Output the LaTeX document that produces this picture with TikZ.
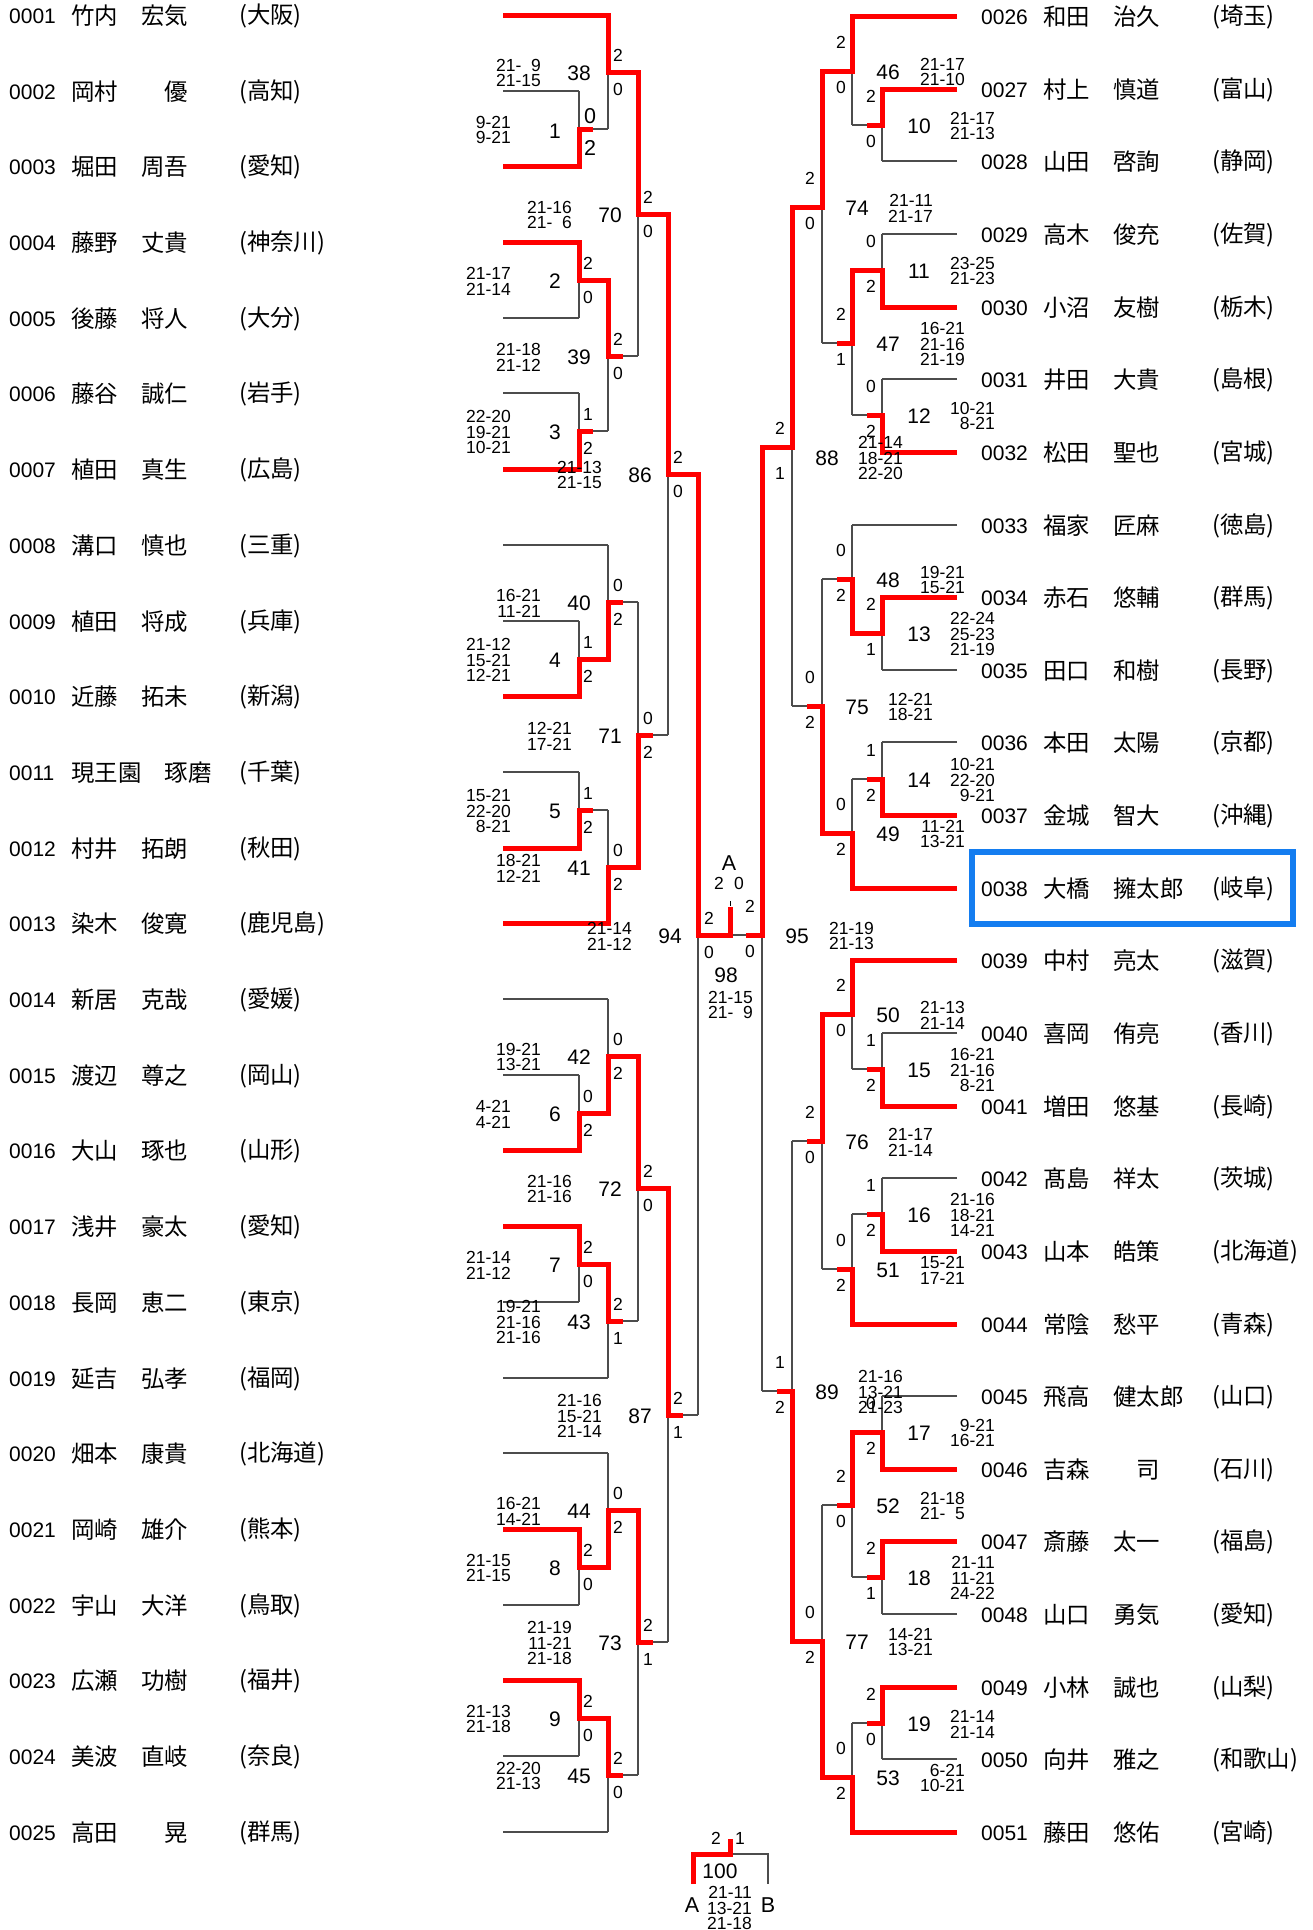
\documentclass[tikz,border=0pt]{standalone}
\usepackage{fontspec}
\setmainfont{Liberation Sans}
\newfontfamily\jpfont{Noto Sans CJK JP}
\definecolor{bluebox}{RGB}{20,125,240}
\tikzset{
  thinln/.style={draw=black!70, line width=1.2pt},
  winln/.style={draw=red, line width=5pt, line join=miter},
  lab/.style={inner sep=0pt, font=\fontsize{17.5}{18}\selectfont},
  biglab/.style={inner sep=0pt, font=\fontsize{21.5}{22}\selectfont},
  mnum/.style={inner sep=0pt, font=\fontsize{21}{22}\selectfont},
  scr/.style={inner sep=0pt, anchor=east, align=right, font=\fontsize{17.5}{15.8}\selectfont},
  pnum/.style={inner sep=0pt, anchor=west, font=\fontsize{21}{22}\selectfont},
  pname/.style={inner sep=0pt, anchor=west, font=\jpfont\fontsize{23.4}{24}\selectfont},
}
% thin match: x, top, bottom, mid, next-x
\newcommand\Mt[5]{\draw[thinln] (#1,#2) -- (#1,#3) (#1,#4) -- (#5,#4);}
\newcommand\LMatch[8]{%
  \node[lab] (m#1t) at (#2,#5-17) {#6};
  \node[lab] (m#1b) at (#2,#5+17) {#7};
  \node[mnum] (m#1n) at (#3,#5+1.5) {#1};
  \node[scr] (m#1s) at (#4,#5+1) {#8};}
\newcommand\RMatch[8]{%
  \node[lab] (m#1t) at (#2,#5-29) {#6};
  \node[lab] (m#1b) at (#2,#5+16) {#7};
  \node[mnum] (m#1n) at (#3,#5+1.5) {#1};
  \node[scr] (m#1s) at (#4,#5+1) {#8};}
\newcommand\LvA[5]{\LMatch{#1}{588}{555}{511}{#2}{#3}{#4}{#5}}
\newcommand\LvB[5]{\LMatch{#1}{618}{579}{541}{#2}{#3}{#4}{#5}}
\newcommand\LvC[5]{\LMatch{#1}{648}{610}{572}{#2}{#3}{#4}{#5}}
\newcommand\LvD[5]{\LMatch{#1}{678}{640}{602}{#2}{#3}{#4}{#5}}
\newcommand\LvE[5]{\LMatch{#1}{709}{670}{632}{#2}{#3}{#4}{#5}}
\newcommand\RvA[5]{\RMatch{#1}{871}{919}{995}{#2}{#3}{#4}{#5}}
\newcommand\RvB[5]{\RMatch{#1}{841}{888}{965}{#2}{#3}{#4}{#5}}
\newcommand\RvC[5]{\RMatch{#1}{810}{857}{933}{#2}{#3}{#4}{#5}}
\newcommand\RvD[5]{\RMatch{#1}{780}{827}{903}{#2}{#3}{#4}{#5}}
\newcommand\RvE[5]{\RMatch{#1}{750}{797}{874}{#2}{#3}{#4}{#5}}
\begin{document}
\begin{tikzpicture}[x=1pt,y=-1pt]
\fill[white] (0,0) rectangle (1312,1930);
\useasboundingbox (0,0) rectangle (1312,1930);

% ---------- names left ----------
\foreach \qy/\qn/\qm/\qp in {15/0001/竹内　宏気/大阪, 91/0002/岡村　　優/高知, 166/0003/堀田　周吾/愛知,
 242/0004/藤野　丈貴/神奈川, 318/0005/後藤　将人/大分, 393/0006/藤谷　誠仁/岩手, 469/0007/植田　真生/広島,
 545/0008/溝口　慎也/三重, 621/0009/植田　将成/兵庫, 696/0010/近藤　拓未/新潟, 772/0011/現王園　琢磨/千葉,
 848/0012/村井　拓朗/秋田, 923/0013/染木　俊寛/鹿児島, 999/0014/新居　克哉/愛媛, 1075/0015/渡辺　尊之/岡山,
 1150/0016/大山　琢也/山形, 1226/0017/浅井　豪太/愛知, 1302/0018/長岡　恵二/東京, 1378/0019/延吉　弘孝/福岡,
 1453/0020/畑本　康貴/北海道, 1529/0021/岡崎　雄介/熊本, 1605/0022/宇山　大洋/鳥取, 1680/0023/広瀬　功樹/福井,
 1756/0024/美波　直岐/奈良, 1832/0025/高田　　晃/群馬}{
  \node[pnum] (n\qn) at (9,\qy+1) {\qn};
  \node[pname] (nm\qn) at (71,\qy+1) {\qm};
  \node[pname] (pf\qn) at (239,\qy+1) {(\qp)};
}
% ---------- names right ----------
\foreach \qy/\qn/\qm/\qp in {16/0026/和田　治久/埼玉, 89/0027/村上　慎道/富山, 161/0028/山田　啓詢/静岡,
 234/0029/高木　俊充/佐賀, 307/0030/小沼　友樹/栃木, 379/0031/井田　大貴/島根, 452/0032/松田　聖也/宮城,
 525/0033/福家　匠麻/徳島, 597/0034/赤石　悠輔/群馬, 670/0035/田口　和樹/長野, 742/0036/本田　太陽/京都,
 815/0037/金城　智大/沖縄, 888/0038/大橋　擁太郎/岐阜, 960/0039/中村　亮太/滋賀, 1033/0040/喜岡　侑亮/香川,
 1106/0041/増田　悠基/長崎, 1178/0042/髙島　祥太/茨城, 1251/0043/山本　皓策/北海道, 1324/0044/常陰　愁平/青森,
 1396/0045/飛高　健太郎/山口, 1469/0046/吉森　　司/石川, 1541/0047/斎藤　太一/福島, 1614/0048/山口　勇気/愛知,
 1687/0049/小林　誠也/山梨, 1759/0050/向井　雅之/和歌山, 1832/0051/藤田　悠佑/宮崎}{
  \node[pnum] (n\qn) at (981,\qy+1) {\qn};
  \node[pname] (nm\qn) at (1043,\qy+1) {\qm};
  \node[pname] (pf\qn) at (1212,\qy+1) {(\qp)};
}
\draw[bluebox, line width=6pt] (972,852) rectangle (1293,924);

% ---------- thin bracket left ----------
\foreach \qy in {91,166,242,318,393,469,621,696,772,848,1075,1150,1226,1302,1529,1605,1680,1756}
  \draw[thinln] (503,\qy) -- (579,\qy);
\foreach \qy in {15,545,923,999,1378,1453,1832}
  \draw[thinln] (503,\qy) -- (608,\qy);
\Mt{579}{91}{166}{129}{608}
\Mt{579}{242}{318}{280}{608}
\Mt{579}{393}{469}{431}{608}
\Mt{579}{621}{696}{659}{608}
\Mt{579}{772}{848}{810}{608}
\Mt{579}{1075}{1150}{1113}{608}
\Mt{579}{1226}{1302}{1264}{608}
\Mt{579}{1529}{1605}{1567}{608}
\Mt{579}{1680}{1756}{1718}{608}
\Mt{608}{15}{129}{72}{638}
\Mt{608}{280}{431}{356}{638}
\Mt{608}{545}{659}{602}{638}
\Mt{608}{810}{923}{867}{638}
\Mt{608}{999}{1113}{1056}{638}
\Mt{608}{1264}{1378}{1321}{638}
\Mt{608}{1453}{1567}{1510}{638}
\Mt{608}{1718}{1832}{1775}{638}
\Mt{638}{72}{356}{214}{668}
\Mt{638}{602}{867}{735}{668}
\Mt{638}{1056}{1321}{1188}{668}
\Mt{638}{1510}{1775}{1642}{668}
\Mt{668}{214}{735}{474}{698}
\Mt{668}{1188}{1642}{1415}{698}
\Mt{698}{474}{1415}{935}{762}

% ---------- thin bracket right ----------
\foreach \qy in {89,161,234,307,379,452,597,670,742,815,1033,1106,1178,1251,1396,1469,1541,1614,1687,1759}
  \draw[thinln] (957,\qy) -- (882,\qy);
\foreach \qy in {16,525,888,960,1324,1832}
  \draw[thinln] (957,\qy) -- (852,\qy);
\Mt{882}{89}{161}{125}{852}
\Mt{882}{234}{307}{270}{852}
\Mt{882}{379}{452}{415}{852}
\Mt{882}{597}{670}{633}{852}
\Mt{882}{742}{815}{779}{852}
\Mt{882}{1033}{1106}{1069}{852}
\Mt{882}{1178}{1251}{1214}{852}
\Mt{882}{1396}{1469}{1432}{852}
\Mt{882}{1541}{1614}{1577}{852}
\Mt{882}{1687}{1759}{1723}{852}
\Mt{852}{16}{125}{71}{822}
\Mt{852}{270}{415}{343}{822}
\Mt{852}{525}{633}{579}{822}
\Mt{852}{779}{888}{833}{822}
\Mt{852}{960}{1069}{1014}{822}
\Mt{852}{1214}{1324}{1269}{822}
\Mt{852}{1432}{1577}{1505}{822}
\Mt{852}{1723}{1832}{1777}{822}
\Mt{822}{71}{343}{207}{792}
\Mt{822}{579}{833}{706}{792}
\Mt{822}{1014}{1269}{1141}{792}
\Mt{822}{1505}{1777}{1641}{792}
\Mt{792}{207}{706}{447}{762}
\Mt{792}{1141}{1641}{1391}{762}
\draw[thinln] (762,447) -- (762,1391);
\draw[black, line width=1pt] (730,901) -- (730,906);

% ---------- winners left ----------
\draw[winln] (503,15) -- (608,15) -- (608,72) -- (638,72) -- (638,214) -- (668,214) -- (668,474) -- (698,474) -- (698,935) -- (730,935) -- (730,907);
\draw[winln] (503,166) -- (579,166) -- (579,129) -- (593,129);
\draw[winln] (503,242) -- (579,242) -- (579,280) -- (608,280) -- (608,356) -- (623,356);
\draw[winln] (503,469) -- (579,469) -- (579,431) -- (593,431);
\draw[winln] (503,696) -- (579,696) -- (579,659) -- (608,659) -- (608,602) -- (623,602);
\draw[winln] (503,848) -- (579,848) -- (579,810) -- (593,810);
\draw[winln] (503,923) -- (608,923) -- (608,867) -- (638,867) -- (638,735) -- (653,735);
\draw[winln] (503,1150) -- (579,1150) -- (579,1113) -- (608,1113) -- (608,1056) -- (638,1056) -- (638,1188) -- (668,1188) -- (668,1415) -- (683,1415);
\draw[winln] (503,1226) -- (579,1226) -- (579,1264) -- (608,1264) -- (608,1321) -- (623,1321);
\draw[winln] (503,1529) -- (579,1529) -- (579,1567) -- (608,1567) -- (608,1510) -- (638,1510) -- (638,1642) -- (653,1642);
\draw[winln] (503,1680) -- (579,1680) -- (579,1718) -- (608,1718) -- (608,1775) -- (623,1775);

% ---------- winners right ----------
\draw[winln] (957,16) -- (852,16) -- (852,71) -- (822,71) -- (822,207) -- (792,207) -- (792,447) -- (762,447) -- (762,935) -- (746,935);
\draw[winln] (957,89) -- (882,89) -- (882,125) -- (867,125);
\draw[winln] (957,307) -- (882,307) -- (882,270) -- (852,270) -- (852,343) -- (837,343);
\draw[winln] (957,452) -- (882,452) -- (882,415) -- (867,415);
\draw[winln] (957,597) -- (882,597) -- (882,633) -- (852,633) -- (852,579) -- (837,579);
\draw[winln] (957,815) -- (882,815) -- (882,779) -- (867,779);
\draw[winln] (957,888) -- (852,888) -- (852,833) -- (822,833) -- (822,706) -- (807,706);
\draw[winln] (957,960) -- (852,960) -- (852,1014) -- (822,1014) -- (822,1141) -- (807,1141);
\draw[winln] (957,1106) -- (882,1106) -- (882,1069) -- (867,1069);
\draw[winln] (957,1251) -- (882,1251) -- (882,1214) -- (867,1214);
\draw[winln] (957,1324) -- (852,1324) -- (852,1269) -- (837,1269);
\draw[winln] (957,1469) -- (882,1469) -- (882,1432) -- (852,1432) -- (852,1505) -- (837,1505);
\draw[winln] (957,1541) -- (882,1541) -- (882,1577) -- (867,1577);
\draw[winln] (957,1687) -- (882,1687) -- (882,1723) -- (867,1723);
\draw[winln] (957,1832) -- (852,1832) -- (852,1777) -- (822,1777) -- (822,1641) -- (792,1641) -- (792,1391) -- (777,1391);

% ---------- match labels left ----------
\node[biglab] (m1t) at (590,116) {0};
\node[biglab] (m1b) at (590,148) {2};
\node[mnum] (m1n) at (555,131) {1};
\node[scr] (m1s) at (511,130) {9-21\\9-21};
\LvA{2}{280}{2}{0}{21-17\\21-14}
\LvA{3}{431}{1}{2}{22-20\\19-21\\10-21}
\LvA{4}{659}{1}{2}{21-12\\15-21\\12-21}
\LvA{5}{810}{1}{2}{15-21\\22-20\\8-21}
\LvA{6}{1113}{0}{2}{4-21\\4-21}
\LvA{7}{1264}{2}{0}{21-14\\21-12}
\LvA{8}{1567}{2}{0}{21-15\\21-15}
\LvA{9}{1718}{2}{0}{21-13\\21-18}
\LvB{38}{72}{2}{0}{21-\hphantom{1}9\\21-15}
\LvB{39}{356}{2}{0}{21-18\\21-12}
\LvB{40}{602}{0}{2}{16-21\\11-21}
\LvB{41}{867}{0}{2}{18-21\\12-21}
\LvB{42}{1056}{0}{2}{19-21\\13-21}
\LvB{43}{1321}{2}{1}{19-21\\21-16\\21-16}
\LvB{44}{1510}{0}{2}{16-21\\14-21}
\LvB{45}{1775}{2}{0}{22-20\\21-13}
\LvC{70}{214}{2}{0}{21-16\\21-\hphantom{1}6}
\LvC{71}{735}{0}{2}{12-21\\17-21}
\LvC{72}{1188}{2}{0}{21-16\\21-16}
\LvC{73}{1642}{2}{1}{21-19\\11-21\\21-18}
\LvD{86}{474}{2}{0}{21-13\\21-15}
\LvD{87}{1415}{2}{1}{21-16\\15-21\\21-14}
\LvE{94}{935}{2}{0}{21-14\\21-12}

% ---------- match labels right ----------
\RvA{10}{125}{2}{0}{21-17\\21-13}
\RvA{11}{270}{0}{2}{23-25\\21-23}
\RvA{12}{415}{0}{2}{10-21\\8-21}
\RvA{13}{633}{2}{1}{22-24\\25-23\\21-19}
\RvA{14}{779}{1}{2}{10-21\\22-20\\9-21}
\RvA{15}{1069}{1}{2}{16-21\\21-16\\8-21}
\RvA{16}{1214}{1}{2}{21-16\\18-21\\14-21}
\RvA{17}{1432}{0}{2}{9-21\\16-21}
\RvA{18}{1577}{2}{1}{21-11\\11-21\\24-22}
\RvA{19}{1723}{2}{0}{21-14\\21-14}
\RvB{46}{71}{2}{0}{21-17\\21-10}
\RvB{47}{343}{2}{1}{16-21\\21-16\\21-19}
\RvB{48}{579}{0}{2}{19-21\\15-21}
\RvB{49}{833}{0}{2}{11-21\\13-21}
\RvB{50}{1014}{2}{0}{21-13\\21-14}
\RvB{51}{1269}{0}{2}{15-21\\17-21}
\RvB{52}{1505}{2}{0}{21-18\\21-\hphantom{1}5}
\RvB{53}{1777}{0}{2}{6-21\\10-21}
\RvC{74}{207}{2}{0}{21-11\\21-17}
\RvC{75}{706}{0}{2}{12-21\\18-21}
\RvC{76}{1141}{2}{0}{21-17\\21-14}
\RvC{77}{1641}{0}{2}{14-21\\13-21}
\RvD{88}{457}{2}{1}{21-14\\18-21\\22-20}
\RvD{89}{1391}{1}{2}{21-16\\13-21\\21-23}
\RvE{95}{935}{2}{0}{21-19\\21-13}

% ---------- centre (98) ----------
\node[biglab] (cA) at (729,863) {A};
\node[lab] (cA2) at (719,883) {2};
\node[lab] (cA0) at (739,883) {0};
\node[mnum] (m98n) at (726,975) {98};
\node[scr] (m98s) at (753,1005) {21-15\\21-\hphantom{1}9};

% ---------- final (100) ----------
\draw[thinln] (693,1884) -- (693,1854) -- (768,1854) -- (768,1884);
\draw[winln] (693,1884) -- (693,1854) -- (730,1854) -- (730,1839);
\node[lab] (f2) at (716,1838) {2};
\node[lab] (f1) at (740,1838) {1};
\node[mnum] (m100n) at (720,1871) {100};
\node[biglab] (fA) at (692,1905) {A};
\node[biglab] (fB) at (768,1905) {B};
\node[scr] (m100s) at (752,1908) {21-11\\13-21\\21-18};
\end{tikzpicture}
\end{document}
